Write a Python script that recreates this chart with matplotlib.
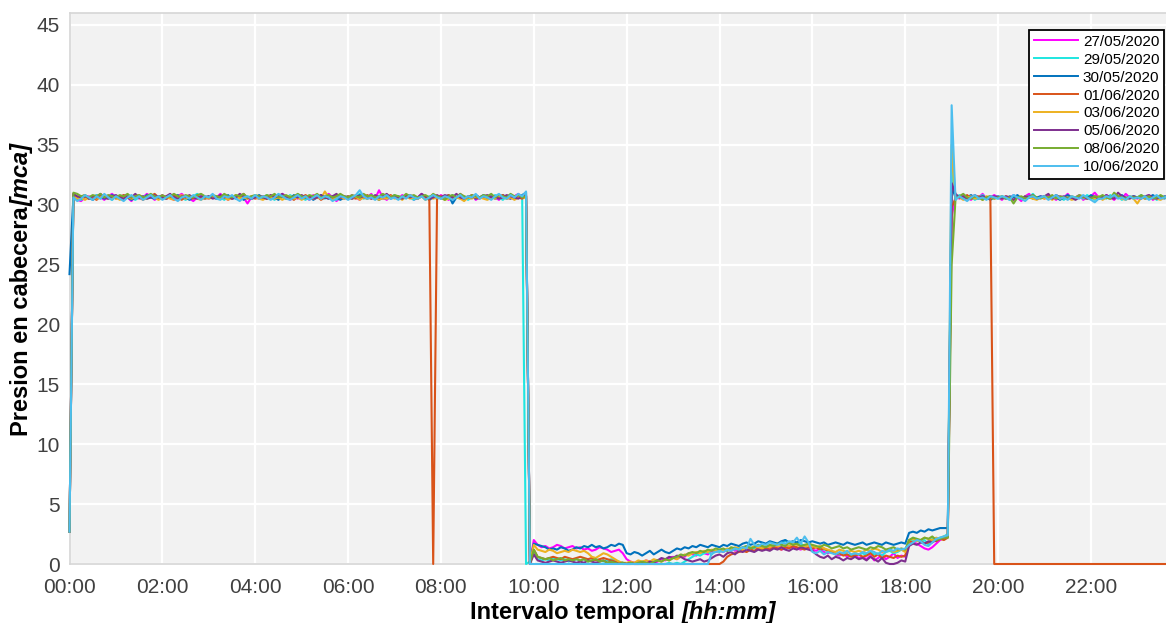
import numpy as np
import matplotlib.pyplot as plt

# presion en cabecera cada 5 minutos (una fila por hora, 00:00 -> 23:55)
fechas = ["27/05/2020", "29/05/2020", "30/05/2020", "01/06/2020",
          "03/06/2020", "05/06/2020", "08/06/2020", "10/06/2020"]
colores = ["#ff00ff", "#1ee6e0", "#0072bd", "#d95319",
           "#edb120", "#7e2f8e", "#77ac30", "#4dbeee"]
horas = ["00:00", "02:00", "04:00", "06:00", "08:00", "10:00",
         "12:00", "14:00", "16:00", "18:00", "20:00", "22:00"]

p_2705 = """
2.7 30.9 30.4 30.3 30.6 30.7 30.5 30.8 30.6 30.4 30.7 30.9
30.6 30.5 30.8 30.6 30.3 30.7 30.5 30.6 30.9 30.7 30.4 30.6
30.8 30.5 30.6 30.4 30.7 30.9 30.6 30.5 30.3 30.6 30.8 30.6
30.5 30.7 30.6 30.9 30.6 30.4 30.7 30.5 30.8 30.6 30.1 30.6
30.6 30.5 30.7 30.6 30.8 30.5 30.6 30.9 30.7 30.4 30.6 30.5
30.7 30.6 30.4 30.8 30.6 30.5 30.7 30.9 30.6 30.3 30.6 30.7
30.5 30.8 30.6 30.4 30.7 30.6 30.9 30.5 31.2 30.6 30.4 30.7
30.6 30.5 30.8 30.6 30.7 30.4 30.6 30.9 30.5 30.6 30.7 30.5
30.8 30.6 30.4 30.7 30.6 30.9 30.5 30.6 30.8 30.4 30.6 30.7
30.5 30.7 30.6 30.4 30.8 30.6 30.5 30.7 30.9 30.6 30.7 0.1
2.0 1.6 1.4 1.5 1.3 1.4 1.6 1.5 1.3 1.4 1.5 1.3
1.4 1.2 1.3 1.1 1.2 1.4 1.3 1.2 1.0 1.1 1.2 0.9
0.4 0.2 0.1 0.2 0.1 0.3 0.2 0.1 0.2 0.4 0.3 0.5
0.6 0.4 0.7 0.6 0.9 0.8 0.7 1.0 0.9 0.8 1.1 1.0
1.1 1.0 1.2 1.3 1.1 1.2 1.4 1.3 1.2 1.4 1.3 1.5
1.4 1.3 1.5 1.4 1.2 1.3 1.5 1.4 1.3 1.2 1.4 1.3
1.2 1.1 1.3 1.0 0.9 1.1 0.8 0.7 0.9 0.6 0.8 0.7
0.5 0.6 0.4 0.7 0.3 0.5 0.8 0.4 0.6 0.9 0.5 0.7
0.6 1.9 1.8 1.7 1.5 1.3 1.2 1.4 1.7 2.0 2.2 2.4
29.0 30.7 30.5 30.8 30.6 30.4 30.7 30.6 30.9 30.5 30.6 30.8
30.6 30.4 30.7 30.5 30.8 30.6 30.3 30.7 30.9 30.6 30.5 30.7
30.5 30.8 30.6 30.4 30.7 30.6 30.9 30.5 30.6 30.8 30.4 30.6
30.7 31.0 30.6 30.5 30.8 30.6 30.4 30.7 30.5 30.9 30.6 30.6
30.5 30.7 30.6 30.8 30.4 30.6 30.7 30.5 30.8 30.6 30.5 30.7
"""

p_2905 = """
2.7 30.8 30.6 30.4 30.7 30.5 30.6 30.8 30.5 30.7 30.6 30.4
30.7 30.6 30.5 30.8 30.6 30.4 30.6 30.7 30.5 30.6 30.8 30.6
30.5 30.6 30.8 30.5 30.7 30.6 30.4 30.6 30.7 30.9 30.6 30.5
30.6 30.8 30.5 30.6 30.4 30.7 30.6 30.5 30.8 30.6 30.7 30.5
30.7 30.5 30.6 30.8 30.6 30.4 30.7 30.6 30.5 30.8 30.6 30.7
30.6 30.4 30.7 30.5 30.8 30.6 30.5 30.7 30.6 30.4 30.8 30.6
30.5 30.7 30.6 30.9 30.5 30.6 30.8 30.6 30.4 30.7 30.5 30.6
30.8 30.6 30.5 30.7 30.6 30.4 30.6 30.8 30.5 30.7 30.6 30.5
30.6 30.7 30.5 30.8 30.6 30.5 30.7 30.4 30.6 30.8 30.6 30.7
30.5 30.6 30.8 30.6 30.4 30.7 30.6 30.5 30.7 30.6 0.0 0.2
0.9 0.4 0.3 0.4 0.3 0.5 0.4 0.3 0.4 0.2 0.3 0.4
0.3 0.4 0.2 0.3 0.4 0.3 0.2 0.3 0.4 0.3 0.2 0.1
0.0 0.0 0.1 0.0 0.0 0.0 0.1 0.0 0.0 0.0 0.0 0.1
0.0 0.1 0.0 0.2 0.4 0.6 0.8 0.7 0.9 1.0 0.8 1.1
1.0 1.2 1.1 1.3 1.2 1.4 1.3 1.5 1.4 1.3 1.6 1.5
1.4 1.6 1.5 1.7 1.6 2.0 1.7 1.6 1.8 1.7 1.5 1.6
1.5 1.4 1.3 1.2 1.1 1.0 0.9 0.8 0.9 0.8 0.7 0.9
0.8 0.9 0.7 1.0 0.8 0.9 0.7 1.0 1.1 0.9 1.0 1.2
1.1 2.0 1.9 2.1 1.8 2.0 1.6 2.1 2.0 2.2 2.3 2.5
33.0 30.6 30.8 30.5 30.6 30.7 30.4 30.6 30.8 30.5 30.7 30.6
30.5 30.7 30.6 30.4 30.8 30.6 30.5 30.7 30.6 30.9 30.5 30.6
30.7 30.5 30.6 30.8 30.6 30.4 30.7 30.5 30.6 30.7 30.5 30.8
30.6 30.4 30.7 30.6 30.5 30.8 30.6 30.7 30.4 30.6 30.5 30.7
30.6 30.8 30.5 30.6 30.7 30.4 30.6 30.5 30.7 30.6 30.8 30.5
"""

p_3005 = """
24.2 30.7 30.6 30.5 30.7 30.6 30.4 30.6 30.7 30.5 30.6 30.8
30.6 30.7 30.5 30.6 30.4 30.6 30.7 30.5 30.8 30.6 30.5 30.7
30.6 30.5 30.7 30.6 30.8 30.5 30.6 30.4 30.6 30.7 30.5 30.6
30.7 30.6 30.5 30.7 30.6 30.8 30.5 30.6 30.7 30.4 30.6 30.5
30.6 30.8 30.6 30.5 30.7 30.6 30.4 30.7 30.6 30.5 30.8 30.6
30.5 30.6 30.7 30.4 30.6 30.8 30.6 30.5 30.7 30.6 30.4 30.6
30.7 30.5 30.6 30.8 30.6 30.5 30.7 30.6 30.4 30.6 30.7 30.5
30.6 30.7 30.5 30.6 30.8 30.6 30.5 30.7 30.6 30.4 30.6 30.7
30.5 30.6 30.8 30.1 30.6 30.7 30.5 30.6 30.7 30.5 30.6 30.8
30.6 30.7 30.5 30.6 30.8 30.6 30.5 30.7 30.6 30.8 31.0 0.1
1.7 1.6 1.5 1.4 1.2 1.3 1.2 1.4 1.3 1.1 1.2 1.4
1.3 1.5 1.4 1.6 1.4 1.5 1.3 1.4 1.6 1.5 1.7 1.6
0.9 0.8 1.0 0.9 0.7 0.9 1.1 0.8 1.0 1.2 1.0 0.9
1.1 1.3 1.2 1.4 1.3 1.5 1.4 1.6 1.5 1.4 1.6 1.5
1.4 1.6 1.5 1.7 1.6 1.5 1.7 1.8 1.6 1.7 1.9 1.8
1.7 1.9 1.8 1.7 1.9 2.0 1.8 1.9 1.8 2.0 1.9 1.8
1.9 1.8 1.7 1.8 1.6 1.7 1.8 1.7 1.6 1.8 1.7 1.6
1.7 1.8 1.6 1.7 1.8 1.7 1.6 1.8 1.7 1.6 1.7 1.8
1.7 2.6 2.7 2.6 2.8 2.7 2.9 2.8 2.9 3.0 3.0 3.0
31.5 30.6 30.7 30.5 30.6 30.8 30.6 30.5 30.7 30.6 30.4 30.6
30.7 30.6 30.5 30.7 30.6 30.8 30.5 30.6 30.7 30.5 30.6 30.7
30.6 30.5 30.7 30.6 30.4 30.6 30.8 30.6 30.5 30.7 30.6 30.5
30.8 30.6 30.5 30.7 30.6 30.5 30.7 30.6 30.8 30.5 30.6 30.7
30.6 30.7 30.5 30.6 30.8 30.6 30.5 30.7 30.6 30.5 30.7 30.6
"""

p_0106 = """
2.7 30.8 30.5 30.6 30.7 30.5 30.6 30.4 30.7 30.6 30.5 30.7
30.5 30.6 30.8 30.6 30.5 30.7 30.6 30.4 30.6 30.7 30.9 30.6
30.7 30.5 30.6 30.8 30.6 30.4 30.7 30.6 30.5 30.7 30.6 30.5
30.6 30.7 30.5 30.6 30.8 30.6 30.5 30.7 30.6 30.9 30.5 30.6
30.5 30.6 30.7 30.5 30.6 30.8 30.6 30.7 30.5 30.6 30.4 30.7
30.6 30.8 30.6 30.5 30.7 30.4 30.6 30.7 30.5 30.8 30.6 30.5
30.7 30.6 30.5 30.7 30.6 30.8 30.5 30.6 30.7 30.5 30.6 30.8
30.6 30.5 30.7 30.6 30.8 30.6 30.5 30.7 30.6 30.4 0.0 30.6
30.7 30.6 30.8 30.5 30.6 30.7 30.5 30.6 30.8 30.6 30.5 30.7
30.6 30.5 30.7 30.6 30.8 30.5 30.6 30.7 30.6 30.5 30.7 0.0
1.2 0.6 0.5 0.4 0.5 0.6 0.5 0.4 0.6 0.5 0.4 0.5
0.6 0.5 0.4 0.5 0.3 0.4 0.5 0.4 0.3 0.2 0.1 0.0
0.0 0.0 0.0 0.0 0.0 0.0 0.0 0.0 0.0 0.0 0.0 0.0
0.0 0.0 0.0 0.0 0.0 0.0 0.0 0.0 0.0 0.0 0.0 0.0
0.0 0.2 0.6 0.8 0.9 1.0 1.1 1.0 1.2 1.1 1.3 1.2
1.3 1.2 1.4 1.3 1.2 1.4 1.3 1.5 1.4 1.3 1.2 1.4
1.3 1.4 1.2 1.3 1.1 1.0 0.8 0.9 0.7 0.8 0.6 0.7
0.8 0.6 0.7 0.9 0.6 0.8 0.5 0.7 0.6 0.5 0.7 0.6
0.7 1.9 1.8 2.0 1.9 1.7 1.8 2.0 1.9 2.1 2.0 2.2
29.8 30.5 30.7 30.6 30.8 30.5 30.6 30.7 30.5 30.6 30.7 0.0
0.0 0.0 0.0 0.0 0.0 0.0 0.0 0.0 0.0 0.0 0.0 0.0
0.0 0.0 0.0 0.0 0.0 0.0 0.0 0.0 0.0 0.0 0.0 0.0
0.0 0.0 0.0 0.0 0.0 0.0 0.0 0.0 0.0 0.0 0.0 0.0
0.0 0.0 0.0 0.0 0.0 0.0 0.0 0.0 0.0 0.0 0.0 0.0
"""

p_0306 = """
2.7 30.7 30.5 30.6 30.4 30.6 30.7 30.5 30.6 30.8 30.6 30.5
30.6 30.4 30.6 30.7 30.5 30.6 30.8 30.6 30.5 30.7 30.6 30.4
30.6 30.7 30.5 30.4 30.6 30.8 30.5 30.6 30.7 30.5 30.4 30.6
30.5 30.6 30.7 30.5 30.6 30.4 30.6 30.8 30.5 30.6 30.5 30.7
30.6 30.5 30.4 30.6 30.7 30.5 30.6 30.4 30.6 30.7 30.5 30.6
30.4 30.6 30.7 30.5 30.6 30.5 31.1 30.6 30.4 30.6 30.7 30.5
30.6 30.5 30.7 30.4 30.6 30.5 30.7 30.6 30.4 30.6 30.5 30.7
30.5 30.6 30.4 30.7 30.5 30.6 30.5 30.7 30.4 30.6 30.5 30.6
30.6 30.4 30.5 30.7 30.6 30.5 30.3 30.6 30.5 30.7 30.6 30.5
30.4 30.6 30.5 30.7 30.6 30.5 30.6 30.4 30.6 30.7 30.5 0.1
1.6 1.2 1.1 1.0 1.2 1.1 0.9 1.0 1.1 1.0 1.2 1.1
1.0 1.1 0.9 0.6 0.5 0.7 0.9 0.8 0.6 0.4 0.2 0.1
0.1 0.2 0.1 0.3 0.2 0.3 0.2 0.4 0.3 0.2 0.4 0.3
0.5 0.4 0.6 0.8 0.7 0.9 1.0 0.9 1.1 1.0 1.2 1.1
1.2 1.1 1.3 1.2 1.4 1.3 1.2 1.4 1.3 1.5 1.4 1.3
1.5 1.4 1.6 1.5 1.4 1.6 1.5 1.7 1.6 1.5 1.4 1.6
1.5 1.4 1.5 1.3 1.2 1.1 1.0 1.2 1.1 1.0 1.1 1.0
1.1 1.0 1.2 1.1 1.3 1.2 1.0 1.1 1.2 1.0 1.1 1.2
1.0 2.0 2.1 1.9 2.0 2.2 2.1 2.0 2.2 2.1 2.3 2.3
35.0 30.5 30.6 30.4 30.6 30.7 30.5 30.6 30.4 30.7 30.6 30.5
30.6 30.5 30.7 30.6 30.4 30.6 30.5 30.7 30.6 30.5 30.4 30.6
30.5 30.6 30.4 30.7 30.5 30.6 30.6 30.4 30.5 30.7 30.6 30.5
30.6 30.5 30.7 30.4 30.6 30.5 30.6 30.7 30.5 30.4 30.6 30.5
30.1 30.6 30.5 30.7 30.6 30.5 30.4 30.6 30.7 30.5 30.6 30.4
"""

p_0506 = """
2.7 30.9 30.7 30.6 30.8 30.5 30.7 30.6 30.9 30.6 30.5 30.7
30.8 30.6 30.5 30.7 30.6 30.9 30.6 30.7 30.5 30.6 30.8 30.6
30.6 30.7 30.9 30.6 30.5 30.7 30.6 30.8 30.6 30.5 30.7 30.6
30.7 30.5 30.6 30.8 30.6 30.7 30.5 30.6 30.9 30.7 30.6 30.5
30.6 30.7 30.6 30.5 30.8 30.6 30.7 30.9 30.6 30.5 30.7 30.6
30.8 30.6 30.7 30.5 30.6 30.8 30.6 30.5 30.7 30.9 30.6 30.7
30.6 30.5 30.8 30.6 30.7 30.6 30.5 30.8 30.6 30.7 30.9 30.6
30.7 30.6 30.5 30.8 30.6 30.7 30.6 30.9 30.7 30.5 30.6 30.8
30.6 30.8 30.7 30.6 30.9 30.6 30.5 30.7 30.6 30.8 30.6 30.7
30.8 30.6 30.7 30.5 30.6 30.8 30.7 30.6 30.5 30.7 30.8 0.0
0.8 0.3 0.2 0.1 0.2 0.3 0.2 0.1 0.2 0.3 0.2 0.1
0.2 0.1 0.3 0.2 0.1 0.2 0.3 0.1 0.2 0.1 0.0 0.1
0.0 0.1 0.0 0.0 0.1 0.0 0.2 0.1 0.3 0.5 0.4 0.6
0.5 0.7 0.6 0.4 0.3 0.2 0.3 0.4 0.2 0.3 0.5 0.7
0.8 0.6 0.9 1.0 0.8 1.1 1.0 1.2 1.1 1.0 1.2 1.1
1.2 1.1 1.3 1.2 1.4 1.2 1.1 1.3 1.2 1.4 1.3 1.2
1.1 0.8 0.6 0.5 0.7 0.4 0.6 0.5 0.3 0.5 0.4 0.6
0.4 0.5 0.3 0.6 0.4 0.2 0.5 0.1 0.0 0.0 0.1 0.3
0.2 1.5 1.7 1.6 1.8 1.7 1.9 1.8 2.0 2.1 2.2 2.3
31.8 30.9 30.6 30.7 30.5 30.6 30.8 30.6 30.7 30.5 30.6 30.7
30.6 30.5 30.7 30.6 30.4 30.6 30.5 30.7 30.6 30.8 30.5 30.6
30.7 30.9 30.5 30.8 30.6 30.7 30.5 30.6 30.4 30.6 30.7 30.5
30.6 30.7 30.5 30.6 30.8 30.6 30.5 31.0 30.7 30.6 30.5 30.7
30.6 30.5 30.7 30.8 30.6 30.5 30.7 30.6 30.8 30.6 30.5 30.7
"""

p_0806 = """
2.7 31.0 30.9 30.7 30.8 30.6 30.8 30.7 30.9 30.6 30.8 30.7
30.6 30.8 30.7 30.9 30.6 30.7 30.8 30.6 30.7 30.9 30.7 30.6
30.8 30.6 30.7 30.9 30.7 30.6 30.8 30.7 30.6 30.8 30.9 30.7
30.6 30.8 30.7 30.6 30.9 30.7 30.6 30.8 30.7 30.9 30.6 30.7
30.8 30.7 30.6 30.8 30.7 30.9 30.6 30.7 30.8 30.6 30.7 30.9
30.7 30.6 30.8 30.7 30.9 30.6 30.7 30.8 30.6 30.7 30.9 30.7
30.6 30.8 30.7 30.6 30.9 30.7 30.8 30.6 30.7 30.9 30.7 30.6
30.8 30.7 30.6 30.9 30.7 30.8 30.6 30.7 30.8 30.6 30.9 30.7
30.6 30.4 30.7 30.8 30.6 30.9 30.7 30.6 30.8 30.7 30.6 30.8
30.7 30.9 30.6 30.8 30.7 30.6 30.9 30.7 30.8 30.6 30.7 0.1
1.2 0.6 0.5 0.4 0.5 0.3 0.4 0.5 0.3 0.4 0.3 0.4
0.3 0.4 0.2 0.3 0.4 0.2 0.3 0.1 0.2 0.1 0.0 0.1
0.0 0.1 0.0 0.1 0.2 0.1 0.0 0.2 0.3 0.2 0.4 0.3
0.5 0.6 0.8 0.7 0.9 1.0 0.9 1.1 1.0 1.2 1.1 1.3
1.2 1.3 1.1 1.4 1.3 1.2 1.4 1.5 1.3 1.4 1.6 1.5
1.4 1.6 1.5 1.7 1.6 1.5 1.8 1.6 1.7 1.5 1.6 1.7
1.6 1.5 1.4 1.6 1.5 1.3 1.4 1.5 1.3 1.4 1.2 1.3
1.4 1.3 1.2 1.4 1.3 1.5 1.4 1.2 1.3 1.4 1.2 1.3
1.2 2.0 2.2 2.1 2.0 2.2 2.1 2.3 2.0 2.1 2.2 2.2
25.0 30.5 30.7 30.9 30.6 30.5 30.7 30.6 30.4 30.6 30.7 30.5
30.6 30.7 30.5 30.6 30.1 30.6 30.7 30.5 30.6 30.8 30.6 30.5
30.7 30.6 30.8 30.5 30.7 30.6 30.5 30.7 30.6 30.8 30.7 30.6
30.5 30.7 30.6 30.8 30.6 30.5 31.0 30.7 30.6 30.5 30.7 30.6
30.6 30.8 30.6 30.7 30.5 30.6 30.8 30.6 30.7 30.5 30.6 30.8
"""

p_1006 = """
2.7 30.6 30.3 30.5 30.8 30.6 30.4 30.7 30.5 30.9 30.6 30.4
30.7 30.5 30.3 30.6 30.8 30.5 30.7 30.4 30.6 30.8 30.5 30.7
30.4 30.6 30.8 30.5 30.3 30.6 30.7 30.5 30.8 30.6 30.4 30.7
30.6 30.9 30.5 30.4 30.7 30.6 30.8 30.5 30.3 30.6 30.7 30.5
30.8 30.5 30.7 30.6 30.4 30.6 30.9 30.7 30.5 30.4 30.6 30.8
30.5 30.7 30.4 30.6 30.8 30.5 30.7 30.6 30.3 30.5 30.7 30.6
30.4 30.6 30.8 31.2 30.7 30.5 30.6 30.4 30.7 30.6 30.8 30.5
30.6 30.4 30.7 30.5 30.8 30.6 30.5 30.7 30.4 30.6 30.8 30.6
30.5 30.7 30.6 30.4 30.6 30.8 30.5 30.7 30.6 30.9 30.5 30.7
30.6 30.4 30.7 30.9 30.6 30.5 30.8 30.6 30.9 30.7 31.1 0.0
0.0 0.0 0.0 0.0 0.0 0.0 0.0 0.0 0.0 0.0 0.0 0.0
0.0 0.0 0.0 0.0 0.0 0.0 0.0 0.0 0.0 0.0 0.0 0.0
0.0 0.0 0.0 0.0 0.0 0.0 0.0 0.0 0.0 0.0 0.0 0.0
0.0 0.0 0.0 0.0 0.0 0.0 0.0 0.0 0.0 0.0 0.9 1.0
1.1 1.0 1.2 1.1 1.3 1.2 1.4 1.3 2.1 1.6 1.5 1.7
1.6 1.8 1.7 1.6 1.8 1.7 1.9 1.8 2.2 1.7 2.3 1.8
1.0 0.9 1.1 0.8 1.0 0.9 0.8 1.0 0.9 1.1 0.8 0.9
0.8 1.0 0.9 1.1 1.0 0.8 1.1 1.0 1.2 1.1 1.3 1.2
1.3 1.6 1.8 2.0 1.9 1.6 1.5 1.8 2.1 2.2 2.3 2.4
38.3 30.4 30.7 30.5 30.3 30.6 30.8 30.5 30.6 30.4 30.7 30.6
30.5 30.7 30.6 30.4 30.8 30.6 30.5 30.3 30.6 30.7 30.5 30.6
30.7 30.4 30.6 30.8 30.5 30.6 30.4 30.7 30.6 30.5 30.8 30.6
30.4 30.2 30.5 30.5 30.7 30.6 30.8 30.5 30.6 30.4 30.7 30.5
30.6 30.5 30.7 30.4 30.6 30.8 30.5 30.6 30.7 30.5 30.6 30.4
"""

series = [p_2705, p_2905, p_3005, p_0106, p_0306, p_0506, p_0806, p_1006]

plt.rcParams['font.family'] = ['Liberation Sans', 'DejaVu Sans']

W, H = 1166, 623
fig = plt.figure(figsize=(W / 100, H / 100), dpi=100)
ax = fig.add_axes([69.5 / W, 1 - 564 / H, 1 - 69.5 / W, (564 - 13) / H])
ax.set_facecolor('#f2f2f2')

for txt, fecha, color in zip(series, fechas, colores):
    p = np.array(txt.split(), dtype=float)
    assert len(p) == 288, fecha
    t = np.arange(len(p)) * 5  # minutos desde las 00:00
    ax.plot(t, p, color=color, lw=1.5, label=fecha, clip_on=False, zorder=3)

ax.set_xlim(0, 1417)
ax.set_ylim(0, 46)
ax.set_xticks(np.arange(0, 1440, 120))
ax.set_xticklabels(horas)
ax.set_yticks(np.arange(0, 46, 5))
ax.grid(True, color='white', lw=1.6)
ax.set_axisbelow(True)
ax.tick_params(length=0, labelsize=15, labelcolor='#404040')
ax.tick_params(axis='x', pad=10)
ax.tick_params(axis='y', pad=7)
for s in ax.spines.values():
    s.set_color('#d6d6d6')
    s.set_linewidth(1.2)
ax.spines['right'].set_visible(False)

leg = ax.legend(loc='upper right', bbox_to_anchor=(1164 / W, 1 - 30 / H),
                bbox_transform=fig.transFigure, fontsize=11, frameon=True,
                fancybox=False, framealpha=1, edgecolor='black',
                borderaxespad=0, borderpad=0.3, labelspacing=0.26,
                handlelength=2.85, handletextpad=0.35)
leg.get_frame().set_linewidth(1.3)
for ln in leg.get_lines():
    ln.set_linewidth(1.4)

# etiquetas de ejes: texto en negrita con la unidad en negrita cursiva
xl = fig.text(470 / W, 1 - 619 / H, "Intervalo temporal ", fontsize=17,
              fontweight='bold', ha='left', va='baseline')
ax.annotate("[hh:mm]", xy=(1, 0), xycoords=xl, ha='left', va='bottom',
            fontsize=17, fontweight='bold', fontstyle='italic')

yl = fig.text(22 / W, 1 - 436 / H, "Presion en cabecera", fontsize=17,
              fontweight='bold', rotation=90, ha='center', va='bottom')
ax.annotate("[mca]", xy=(0.5, 1), xycoords=yl, ha='center', va='bottom',
            rotation=90, fontsize=17, fontweight='bold', fontstyle='italic')

plt.savefig("out.png", dpi=100)
